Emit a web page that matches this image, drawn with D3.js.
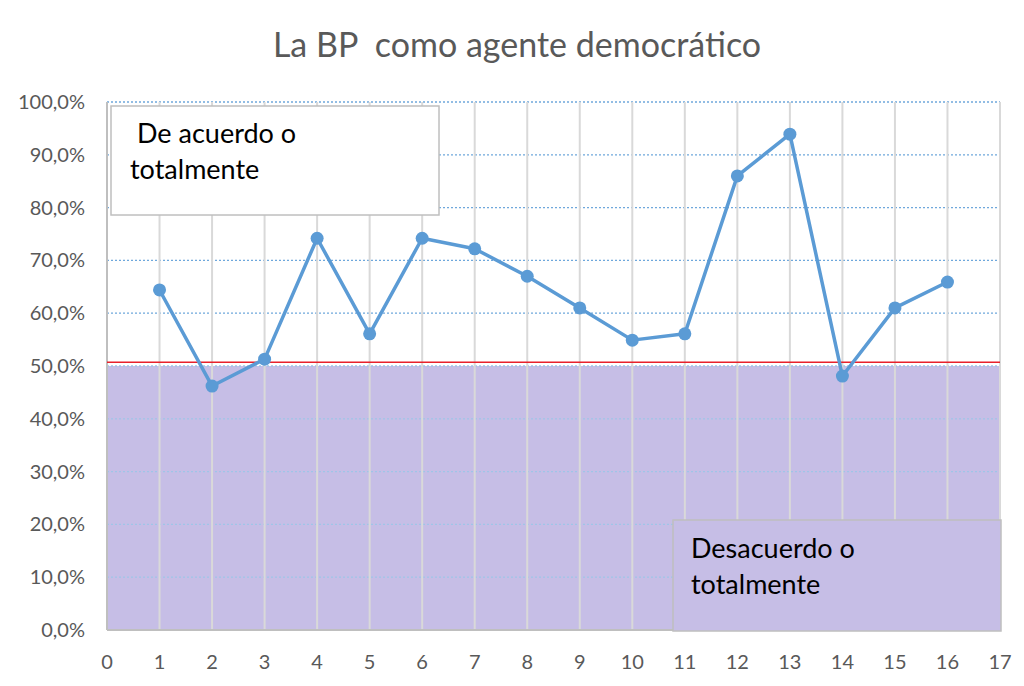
<!DOCTYPE html>
<html>
<head>
<meta charset="utf-8">
<script src="https://cdn.jsdelivr.net/npm/d3@7"></script>
<style>
  body { margin: 0; background: #fff; }
  text { font-family: Lato, "Open Sans", sans-serif; }
</style>
</head>
<body>
<svg width="1024" height="686"></svg>
<script>
// data
var xValues = [1, 2, 3, 4, 5, 6, 7, 8, 9, 10, 11, 12, 13, 14, 15, 16];
var yValues = [64.4, 46.2, 51.3, 74.2, 56.1, 74.2, 72.2, 67.0, 61.0, 54.9, 56.1, 86.0, 93.9, 48.1, 61.0, 65.9];
var xTicks = d3.range(0, 18);
var yTicks = d3.range(0, 101, 10);
var threshold = 50;
var redLine = 50.7;
var boxTop = ["De acuerdo o", "totalmente"];
var boxBottom = ["Desacuerdo o", "totalmente"];

var svg = d3.select("svg"),
    width = +svg.attr("width"),
    height = +svg.attr("height");

var x = d3.scaleLinear().domain([0, 17]).range([107, 1000]);
var y = d3.scaleLinear().domain([0, 100]).range([630, 102]);

svg.append("text")
    .attr("x", 517)
    .attr("y", 57)
    .attr("text-anchor", "middle")
    .style("font-size", "34px")
    .style("fill", "#595959")
    .style("white-space", "pre")
    .text("La BP  como agente democrático");

// purple band below 50%
svg.append("rect")
    .attr("x", x(0)).attr("y", y(threshold))
    .attr("width", x(17) - x(0)).attr("height", y(0) - y(threshold))
    .attr("fill", "#c6bee6");

// horizontal dotted grid
svg.append("g").selectAll("line")
    .data(yTicks.filter(d => d > 0))
    .enter().append("line")
    .attr("x1", x(0)).attr("x2", x(17))
    .attr("y1", d => y(d)).attr("y2", d => y(d))
    .style("stroke", d => d <= threshold ? "#9fc5e8" : "#6fa8dc")
    .style("stroke-width", 1.3)
    .style("stroke-dasharray", "2,2");

// vertical grid
svg.append("g").selectAll("line")
    .data(xTicks)
    .enter().append("line")
    .attr("x1", d => x(d)).attr("x2", d => x(d))
    .attr("y1", y(100)).attr("y2", y(0))
    .style("stroke", d => d == 0 ? "#bfbfbf" : "#d9d9d9")
    .style("stroke-width", 2);

// bottom axis line
svg.append("line")
    .attr("x1", x(0)).attr("x2", x(17))
    .attr("y1", y(0)).attr("y2", y(0))
    .style("stroke", "#bfbfbf").style("stroke-width", 2);

// y tick labels
svg.append("g").selectAll("text")
    .data(yTicks)
    .enter().append("text")
    .attr("x", 85)
    .attr("y", d => y(d) + 7)
    .attr("text-anchor", "end")
    .style("font-size", "20px")
    .style("fill", "#595959")
    .text(d => d3.format(".1f")(d).replace(".", ",") + "%");

// x tick labels
svg.append("g").selectAll("text")
    .data(xTicks)
    .enter().append("text")
    .attr("x", d => x(d))
    .attr("y", 669)
    .attr("text-anchor", "middle")
    .style("font-size", "20px")
    .style("fill", "#595959")
    .text(d => d);

// red reference line
svg.append("line")
    .attr("x1", x(0)).attr("x2", x(17))
    .attr("y1", y(redLine)).attr("y2", y(redLine))
    .style("stroke", "#e8212b").style("stroke-width", 1.5);

// boxes
var g1 = svg.append("g");
g1.append("rect")
    .attr("x", 111).attr("y", 106).attr("width", 328).attr("height", 109)
    .attr("fill", "#fff").attr("stroke", "#bfbfbf").attr("stroke-width", 1.5);
g1.selectAll("text").data(boxTop).enter().append("text")
    .attr("x", (d, i) => i == 0 ? 137 : 130)
    .attr("y", (d, i) => 143 + i * 36)
    .style("font-size", "27px").style("fill", "#000")
    .text(d => d);

var g2 = svg.append("g");
g2.append("rect")
    .attr("x", 673).attr("y", 520).attr("width", 328).attr("height", 111)
    .attr("fill", "#c6bee6").attr("stroke", "#bfbfbf").attr("stroke-width", 1.5);
g2.selectAll("text").data(boxBottom).enter().append("text")
    .attr("x", 691)
    .attr("y", (d, i) => 558 + i * 36)
    .style("font-size", "27px").style("fill", "#000")
    .text(d => d);

// series
var pts = xValues.map((d, i) => [d, yValues[i]]);
svg.append("path")
    .datum(pts)
    .attr("fill", "none")
    .attr("stroke", "#5b9bd5")
    .attr("stroke-width", 3.5)
    .attr("stroke-linejoin", "round")
    .attr("d", d3.line().x(d => x(d[0])).y(d => y(d[1])));

svg.append("g").selectAll("circle")
    .data(pts)
    .enter().append("circle")
    .attr("cx", d => x(d[0]))
    .attr("cy", d => y(d[1]))
    .attr("r", 6.5)
    .attr("fill", "#5b9bd5");
</script>
</body>
</html>
